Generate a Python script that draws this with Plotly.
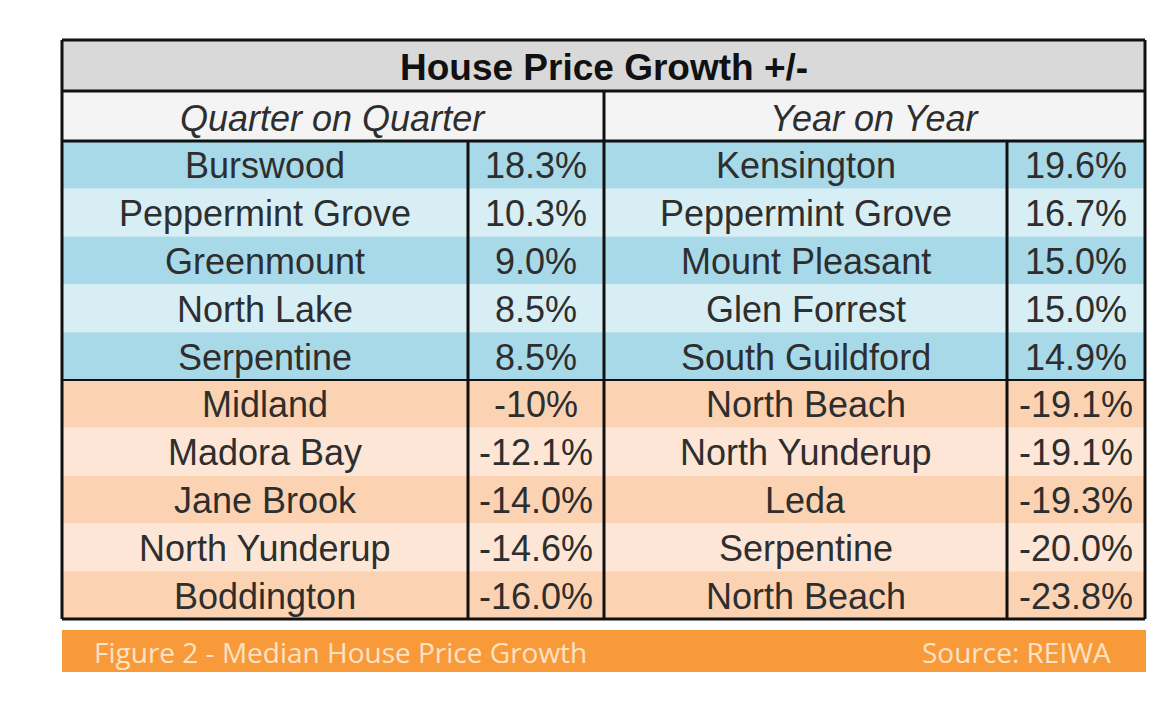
import plotly.graph_objects as go

# ---- data ----
title_text = "House Price Growth +/-"
qoq_header = "Quarter on Quarter"
yoy_header = "Year on Year"
qoq_suburbs = ["Burswood", "Peppermint Grove", "Greenmount", "North Lake", "Serpentine",
               "Midland", "Madora Bay", "Jane Brook", "North Yunderup", "Boddington"]
qoq_values = ["18.3%", "10.3%", "9.0%", "8.5%", "8.5%",
              "-10%", "-12.1%", "-14.0%", "-14.6%", "-16.0%"]
yoy_suburbs = ["Kensington", "Peppermint Grove", "Mount Pleasant", "Glen Forrest", "South Guildford",
               "North Beach", "North Yunderup", "Leda", "Serpentine", "North Beach"]
yoy_values = ["19.6%", "16.7%", "15.0%", "15.0%", "14.9%",
              "-19.1%", "-19.1%", "-19.3%", "-20.0%", "-23.8%"]
caption_left = "Figure 2 - Median House Price Growth"
caption_right = "Source: REIWA"

# ---- layout geometry (pixel-like coordinate system of the window) ----
W, H = 1160, 704
PAD = 8  # default page margin around the plot div
col_edges = [62, 468, 604, 1007, 1145]
top = 40
title_bottom = 91
sub_bottom = 141
data_bottom = 619
n_rows = len(qoq_suburbs)
row_h = (data_bottom - sub_bottom) / n_rows

blue_dark, blue_light = "#a8d9e8", "#d7eef5"
orange_dark, orange_light = "#fcd3b2", "#fde6d6"
text_col = "#2e2e2e"
font_main = "Liberation Sans"

shapes = []
annotations = []

def rect(x0, y0, x1, y1, fill):
    shapes.append(dict(type="rect", xref="x", yref="y", x0=x0, y0=y0, x1=x1, y1=y1,
                       fillcolor=fill, line=dict(width=0), layer="below"))

def line(x0, y0, x1, y1, w=3):
    shapes.append(dict(type="line", xref="x", yref="y", x0=x0, y0=y0, x1=x1, y1=y1,
                       line=dict(color="#111111", width=w), layer="above"))

def text(x, y, s, size=34, bold=False, italic=False, color=text_col, anchor="center", family=font_main):
    if bold:
        s = "<b>" + s + "</b>"
    if italic:
        s = "<i>" + s + "</i>"
    annotations.append(dict(x=x, y=y, xref="x", yref="y", text=s, showarrow=False,
                            xanchor=anchor, yanchor="middle",
                            font=dict(size=size, color=color, family=family)))

# title row
rect(col_edges[0], top, col_edges[-1], title_bottom, "#d9d9d9")
text((col_edges[0] + col_edges[-1]) / 2, (top + title_bottom) / 2 + 2, title_text, size=37, bold=True, color="#111111")
# sub header
rect(col_edges[0], title_bottom, col_edges[-1], sub_bottom, "#f4f4f4")
text((col_edges[0] + col_edges[2]) / 2, (title_bottom + sub_bottom) / 2 + 2, qoq_header, size=36, italic=True)
text((col_edges[2] + col_edges[4]) / 2, (title_bottom + sub_bottom) / 2 + 2, yoy_header, size=36, italic=True)

# data rows
half = n_rows // 2
for i in range(n_rows):
    y0 = sub_bottom + i * row_h
    y1 = y0 + row_h
    if i < half:
        fill = blue_dark if i % 2 == 0 else blue_light
    else:
        fill = orange_dark if (i - half) % 2 == 0 else orange_light
    rect(col_edges[0], y0, col_edges[-1], y1, fill)
    yc = (y0 + y1) / 2 + 1
    row = [qoq_suburbs[i], qoq_values[i], yoy_suburbs[i], yoy_values[i]]
    for c, s in enumerate(row):
        text((col_edges[c] + col_edges[c + 1]) / 2, yc, s, size=36)

# borders
line(col_edges[0], top, col_edges[-1], top)
line(col_edges[0], data_bottom, col_edges[-1], data_bottom)
line(col_edges[0], top, col_edges[0], data_bottom)
line(col_edges[-1], top, col_edges[-1], data_bottom)
line(col_edges[0], title_bottom, col_edges[-1], title_bottom)
line(col_edges[0], sub_bottom, col_edges[-1], sub_bottom)
line(col_edges[0], sub_bottom + half * row_h, col_edges[-1], sub_bottom + half * row_h, w=2)
line(col_edges[2], title_bottom, col_edges[2], data_bottom)
line(col_edges[1], sub_bottom, col_edges[1], data_bottom)
line(col_edges[3], sub_bottom, col_edges[3], data_bottom)

# caption bar
rect(62, 630, 1146, 672, "#f89a3a")
text(92, 652, caption_left, size=28, color="#fde2c4", anchor="left", family="Open Sans")
text(1113, 652, caption_right, size=28, color="#fde2c4", anchor="right", family="Open Sans")

fig = go.Figure()
fig.add_trace(go.Scatter(x=[PAD, W - PAD], y=[PAD, H - PAD], mode="markers", marker=dict(opacity=0),
                         hoverinfo="skip", showlegend=False))
fig.update_layout(
    width=W - 2 * PAD, height=H - 2 * PAD, margin=dict(l=0, r=0, t=0, b=0),
    paper_bgcolor="white", plot_bgcolor="white",
    xaxis=dict(range=[PAD, W - PAD], visible=False, fixedrange=True),
    yaxis=dict(range=[H - PAD, PAD], visible=False, fixedrange=True),
    shapes=shapes, annotations=annotations, showlegend=False,
)
fig.write_html("out.html")
